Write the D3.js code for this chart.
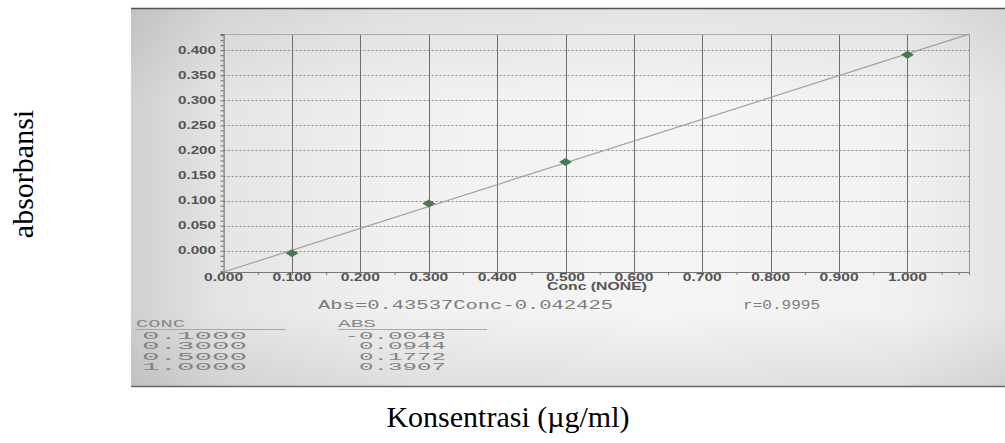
<!DOCTYPE html>
<html lang="id">
<head>
<meta charset="UTF-8">
<script src="https://d3js.org/d3.v7.min.js"></script>
<style>
  body { margin: 0; background: #fff; }
  svg { display: block; }
</style>
</head>
<body>
<div id="chart"></div>
<script>
// data kalibrasi
const conc = [0.1, 0.3, 0.5, 1.0];
const absVals = [-0.0048, 0.0944, 0.1772, 0.3907];
const concLabels = ["0.1000", "0.3000", "0.5000", "1.0000"];
const absLabels = ["-0.0048", "0.0944", "0.1772", "0.3907"];
const slope = 0.43537, intercept = -0.042425, rVal = "0.9995";
const xTicks = [0, 0.1, 0.2, 0.3, 0.4, 0.5, 0.6, 0.7, 0.8, 0.9, 1.0];
const yTicks = [0, 0.05, 0.1, 0.15, 0.2, 0.25, 0.3, 0.35, 0.4];

const W = 1005, H = 443;
const svg = d3.select("#chart").append("svg").attr("width", W).attr("height", H);

// latar foto
const defs = svg.append("defs");
const grad = defs.append("linearGradient").attr("id", "bg").attr("x1", 0).attr("x2", 1).attr("y1", 0).attr("y2", 0);
[[0, "#d0d0d0"], [0.1, "#e4e4e4"], [0.3, "#f0f0f0"], [0.6, "#f5f5f5"], [0.88, "#f1f1f1"], [1, "#e4e4e4"]]
  .forEach(s => grad.append("stop").attr("offset", s[0]).attr("stop-color", s[1]));
const gradV = defs.append("linearGradient").attr("id", "shade").attr("x1", 0).attr("x2", 0).attr("y1", 0).attr("y2", 1);
[[0, "rgba(0,0,0,0.07)"], [0.25, "rgba(0,0,0,0)"], [0.8, "rgba(0,0,0,0)"], [1, "rgba(0,0,0,0.08)"]]
  .forEach(s => gradV.append("stop").attr("offset", s[0]).attr("stop-color", s[1]));

svg.append("rect").attr("x", 131).attr("y", 8).attr("width", W - 131).attr("height", 379).attr("fill", "url(#bg)");
svg.append("rect").attr("x", 131).attr("y", 8).attr("width", W - 131).attr("height", 379).attr("fill", "url(#shade)");
svg.append("line").attr("x1", 131).attr("x2", W).attr("y1", 8.5).attr("y2", 8.5).attr("stroke", "#555").attr("stroke-width", 1.5);
svg.append("line").attr("x1", 131).attr("x2", W).attr("y1", 386.5).attr("y2", 386.5).attr("stroke", "#666").attr("stroke-width", 1.5);

// skala
const x = d3.scaleLinear().domain([0, 1.09]).range([223.6, 969]);
const y = d3.scaleLinear().domain([-0.0424, 0.4323]).range([272, 34]);

const g = svg.append("g");

// grid horizontal putus-putus
g.selectAll(".hgrid").data(yTicks).join("line")
  .attr("x1", x(0)).attr("x2", x(1.09))
  .attr("y1", d => Math.round(y(d)) + 0.5).attr("y2", d => Math.round(y(d)) + 0.5)
  .attr("stroke", "#8a8a8a").attr("stroke-dasharray", "2,2");

// grid vertikal
g.selectAll(".vgrid").data(xTicks.slice(1)).join("line")
  .attr("x1", d => Math.round(x(d)) + 0.5).attr("x2", d => Math.round(x(d)) + 0.5)
  .attr("y1", y(0.4323)).attr("y2", y(-0.0424))
  .attr("stroke", "#6e6e6e").attr("stroke-width", 1);

// bingkai
g.append("line").attr("x1", x(0)).attr("x2", x(1.09)).attr("y1", 34.5).attr("y2", 34.5).attr("stroke", "#aaa");
g.append("line").attr("x1", 969.5).attr("x2", 969.5).attr("y1", 34).attr("y2", 272).attr("stroke", "#999");

// sumbu
const yAxis = d3.axisLeft(y).tickValues(d3.range(-0.04, 0.431, 0.01)).tickSize(3).tickFormat("");
g.append("g").attr("transform", `translate(${x(0)},0)`).call(yAxis)
  .call(a => a.selectAll("path,line").attr("stroke", "#666"));
const xAxis = d3.axisBottom(x).tickValues(d3.range(0, 1.09, 0.025)).tickSize(3).tickFormat("");
g.append("g").attr("transform", `translate(0,${y(-0.0424)})`).call(xAxis)
  .call(a => a.selectAll("path,line").attr("stroke", "#777"));

// label tick
const tickFont = "'Liberation Sans', Arial, sans-serif";
g.selectAll(".ylab").data(yTicks).join("text")
  .attr("x", 216).attr("y", d => y(d) + 3.5)
  .attr("text-anchor", "end")
  .attr("textLength", 38).attr("lengthAdjust", "spacingAndGlyphs")
  .style("font-family", tickFont).style("font-size", "10px").style("font-weight", "bold")
  .style("fill", "#555")
  .text(d => d3.format(".3f")(d));
g.selectAll(".xlab").data(xTicks).join("text")
  .attr("x", d => x(d)).attr("y", 281)
  .attr("text-anchor", "middle")
  .attr("textLength", 39).attr("lengthAdjust", "spacingAndGlyphs")
  .style("font-family", tickFont).style("font-size", "10px").style("font-weight", "bold")
  .style("fill", "#555")
  .text(d => d3.format(".3f")(d));
g.append("text").attr("x", 597).attr("y", 290).attr("text-anchor", "middle")
  .attr("textLength", 100).attr("lengthAdjust", "spacingAndGlyphs")
  .style("font-family", tickFont).style("font-size", "10px").style("font-weight", "bold")
  .style("fill", "#555").text("Conc (NONE)");

// garis regresi
g.append("line")
  .attr("x1", x(0)).attr("y1", y(intercept))
  .attr("x2", x(1.09)).attr("y2", y(slope * 1.09 + intercept))
  .attr("stroke", "#a0a0a0").attr("stroke-width", 1.2);

// titik data
g.selectAll(".pt").data(conc).join("path")
  .attr("d", "M-6.5,0L0,-4L6.5,0L0,4Z")
  .attr("transform", (d, i) => `translate(${x(d)},${y(absVals[i])})`)
  .attr("fill", "#4a7857");

// persamaan dan tabel
const mono = "'Liberation Mono', 'DejaVu Sans Mono', monospace";
const eq = `Abs=${slope}Conc-${Math.abs(intercept)}`;
g.append("text").attr("x", 318).attr("y", 309)
  .attr("textLength", 295).attr("lengthAdjust", "spacingAndGlyphs")
  .style("font-family", mono).style("font-size", "12px").style("fill", "#7c7c7c").text(eq);
g.append("text").attr("x", 743).attr("y", 309)
  .attr("textLength", 77).attr("lengthAdjust", "spacingAndGlyphs")
  .style("font-family", mono).style("font-size", "12px").style("fill", "#7c7c7c").text("r=" + rVal);

g.append("text").attr("x", 136).attr("y", 327)
  .attr("textLength", 49).attr("lengthAdjust", "spacingAndGlyphs")
  .style("font-family", mono).style("font-size", "10px").style("fill", "#888").text("CONC");
g.append("line").attr("x1", 135).attr("x2", 286).attr("y1", 329.5).attr("y2", 329.5).attr("stroke", "#aaa");
g.append("text").attr("x", 338).attr("y", 327)
  .attr("textLength", 38).attr("lengthAdjust", "spacingAndGlyphs")
  .style("font-family", mono).style("font-size", "10px").style("fill", "#888").text("ABS");
g.append("line").attr("x1", 338).attr("x2", 487).attr("y1", 329.5).attr("y2", 329.5).attr("stroke", "#aaa");

const rowY = [338.5, 349, 359.5, 370];
g.selectAll(".cl").data(concLabels).join("text")
  .attr("x", 142).attr("y", (d, i) => rowY[i])
  .attr("textLength", 105).attr("lengthAdjust", "spacingAndGlyphs")
  .style("font-family", mono).style("font-size", "10px").style("fill", "#848484").text(d => d);
g.selectAll(".al").data(absLabels).join("text")
  .attr("x", 446).attr("y", (d, i) => rowY[i]).attr("text-anchor", "end")
  .attr("textLength", d => d.length * 14.5).attr("lengthAdjust", "spacingAndGlyphs")
  .style("font-family", mono).style("font-size", "10px").style("fill", "#848484").text(d => d);

// judul sumbu
const serif = "'Liberation Serif', 'Times New Roman', serif";
svg.append("text").attr("transform", "translate(33,174) rotate(-90)")
  .attr("text-anchor", "middle")
  .style("font-family", serif).style("font-size", "30px").style("fill", "#000").text("absorbansi");
svg.append("text").attr("x", 508).attr("y", 427).attr("text-anchor", "middle")
  .style("font-family", serif).style("font-size", "30px").style("fill", "#000").text("Konsentrasi (µg/ml)");
</script>
</body>
</html>
